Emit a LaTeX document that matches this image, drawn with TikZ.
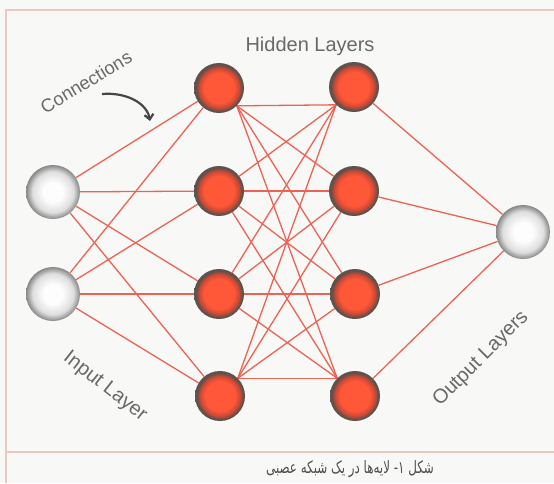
\documentclass[tikz,border=0pt]{standalone}
\usepackage{fontspec}
\setmainfont{Liberation Sans}
\newfontfamily\arabicfont[Script=Arabic]{DejaVu Sans}
\TeXXeTstate=1
\usetikzlibrary{arrows.meta,backgrounds}
\definecolor{bg}{RGB}{248,248,246}
\definecolor{framec}{RGB}{232,202,190}
\definecolor{connc}{RGB}{236,98,84}
\definecolor{txtc}{RGB}{105,105,105}
\definecolor{capc}{RGB}{80,80,80}
\definecolor{arrowc}{RGB}{70,70,70}
\definecolor{hc}{RGB}{254,88,56}
\definecolor{hm}{RGB}{205,72,52}
\definecolor{hr}{RGB}{95,82,76}
\definecolor{wc}{RGB}{253,253,253}
\definecolor{wm}{RGB}{222,222,222}
\definecolor{wr}{RGB}{135,135,135}
\pgfdeclareradialshading{hiddenball}{\pgfpoint{0bp}{0bp}}{color(0bp)=(hc); color(15bp)=(hc); color(20bp)=(hm); color(23bp)=(hr); color(50bp)=(hr)}
\pgfdeclareradialshading{whiteball}{\pgfpoint{0bp}{0bp}}{color(0bp)=(wc); color(9bp)=(wc); color(19bp)=(wm); color(25bp)=(wr); color(50bp)=(wr)}
\tikzset{
  hid/.style={circle, minimum size=50pt, inner sep=0pt, shading=hiddenball},
  io/.style={circle, minimum size=54pt, inner sep=0pt, shading=whiteball},
  link/.style={draw=connc, line width=1.3pt},
  framel/.style={draw=framec, line width=1.2pt},
  lbl/.style={text=txtc, font=\fontsize{20}{23}\selectfont, inner sep=0pt}
}
\begin{document}
\begin{tikzpicture}[x=1pt,y=-1pt]
\useasboundingbox (0,0) rectangle (554,483);
% nodes
\node[io] (i1) at (53,192) {};
\node[io] (i2) at (53,294) {};
\node[hid] (a1) at (219,88) {};
\node[hid] (a2) at (219,191) {};
\node[hid] (a3) at (219,294) {};
\node[hid] (a4) at (220,396) {};
\node[hid] (b1) at (354,87) {};
\node[hid] (b2) at (354,191) {};
\node[hid] (b3) at (355,294) {};
\node[hid] (b4) at (355,396) {};
\node[io] (o) at (523,232) {};
\begin{pgfonlayer}{background}
  \fill[bg] (0,0) rectangle (554,483);
  \foreach \s in {i1,i2} \foreach \t in {a1,a2,a3,a4} \draw[link] (\s) -- (\t);
  \foreach \s in {a1.-45,a2,a3,a4.45} \foreach \t in {b1.-135,b2,b3,b4.135} \draw[link] (\s) -- (\t);
  \foreach \s in {b1,b2,b3,b4} \draw[link] (\s) -- (o);
\end{pgfonlayer}
% frame
\draw[framel] (6,483) -- (6,10) -- (554,10);
\draw[framel] (6,452) -- (554,452);
% labels
\node[lbl] (hl) at (310,46) {Hidden Layers};
\node[lbl, rotate=31, font=\fontsize{18.5}{22}\selectfont] (cl) at (86,82) {Connections};
\node[lbl, rotate=-38] (il) at (105,387) {Input Layer};
\node[lbl, rotate=45] (ol) at (481,359) {Output Layers};
\coordinate (as) at (102,94);
\coordinate (ae) at (150,121);
\draw[line width=2.2pt, draw=arrowc, -{Straight Barb[length=5pt,width=9pt]}] (as) .. controls (126,92) and (147,103) .. (ae);
\node[text=capc, xscale=0.7] (cap) at (350,469) {\arabicfont\fontsize{17}{19}\selectfont\beginR شکل ۱- لایه‌ها در یک شبکه عصبی\endR};
\end{tikzpicture}
\end{document}
